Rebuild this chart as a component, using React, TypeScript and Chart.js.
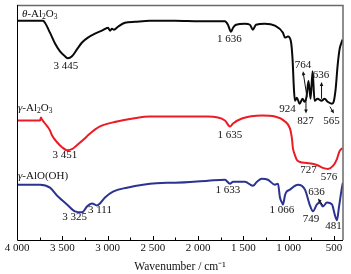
import React, { useEffect, useRef } from 'react';
import { Chart, registerables } from 'chart.js';

Chart.register(...registerables);

const FONT = "'Liberation Serif', 'Times New Roman', serif";

// x-axis ticks
const majorTicks = [500, 1000, 1500, 2000, 2500, 3000, 3500, 4000];
const minorTicks = [750, 1250, 1750, 2250, 2750, 3250, 3750];

// θ-Al2O3 (black)
const thetaWavenumbers = [4000, 3713, 3691, 3636, 3580, 3525, 3470, 3437, 3393, 3338, 3282, 3216, 3139, 3062, 2995, 2973, 2951, 2929, 2885, 2808, 2697, 2532, 2256, 1980, 1704, 1671, 1637, 1614, 1581, 1483, 1428, 1395, 1361, 1262, 1152, 1063, 1041, 1008, 975, 957, 942, 931, 909, 880, 847, 825, 803, 781, 758, 736, 714, 681, 637, 603, 570, 522, 503, 481, 460, 438, 405];
const thetaValues = [222, 222, 220, 210, 199, 191, 186, 184, 186, 193, 200, 205, 209, 212, 215, 212, 214, 213, 216, 220, 221, 222, 222, 221.5, 221.5, 218, 211, 215, 218, 219, 218, 213, 218, 219, 217, 210, 205, 206, 201, 183, 153, 141, 144, 138, 143, 140, 145, 161, 143, 171, 141, 143, 141, 143, 140, 138, 140, 153, 176, 193, 203];

// γ-Al2O3 (red)
const gammaWavenumbers = [4000, 3746, 3735, 3724, 3691, 3636, 3614, 3558, 3503, 3448, 3393, 3338, 3249, 3216, 3084, 2896, 2719, 2532, 2256, 1891, 1704, 1648, 1614, 1516, 1295, 1152, 1041, 986, 964, 953, 931, 909, 876, 798, 688, 622, 566, 511, 467, 438, 405];
const gammaValues = [121, 121, 124, 122, 118, 111, 106, 99, 94, 91, 92, 96, 103, 106, 115, 120, 123, 125, 125, 125, 121, 115, 118, 123, 126, 125, 120, 113, 103, 93, 86, 81, 79, 78, 76, 73, 72, 75, 82, 90, 93];

// γ-AlO(OH) (blue)
const boehmiteWavenumbers = [4000, 3746, 3636, 3547, 3448, 3360, 3282, 3227, 3172, 3117, 3084, 3028, 2940, 2786, 2609, 2344, 2256, 1891, 1704, 1648, 1614, 1483, 1395, 1350, 1295, 1229, 1152, 1118, 1096, 1074, 1063, 1041, 1030, 986, 898, 820, 765, 732, 688, 655, 622, 577, 522, 489, 467, 445, 412, 401];
const boehmiteValues = [56, 56, 53, 44, 36, 29, 28, 34, 37, 35, 37, 43, 49, 53, 56, 58, 58, 60, 61, 57, 59, 59, 55, 59, 62, 61, 56, 57, 43, 38, 36, 45, 48, 51, 56, 51, 35, 29, 36, 38, 34, 38, 36, 25, 20, 33, 53, 58];

// peak annotations (text centred at wavenumber / value)
const peakTexts = ['3 445', '1 636', '764', '636', '924', '827', '565', '3 451', '1 635', '727', '576', '3 325', '3 111', '1 633', '1 066', '749', '636', '481'];
const peakWavenumbers = [3459, 1654, 842, 644, 1014, 815, 528, 3470, 1648, 782, 555, 3365, 3084, 1670, 1074, 754, 693, 506];
const peakValues = [176, 203, 177, 167, 133, 120, 120, 86, 106, 71, 64, 23, 30, 51, 30, 21, 49, 14];

// arrows: from (w1,v1) to (w2,v2), head at the end
const arrowFromW = [798, 637, 809, 544, 622];
const arrowFromV = [145, 143, 143, 135, 35];
const arrowToW = [842, 637, 809, 500, 677];
const arrowToV = [171, 160, 128, 128, 42];

// sample names
const sampleNames = [
  [{ t: 'θ', it: true }, { t: '-Al' }, { t: '2', sub: true }, { t: 'O' }, { t: '3', sub: true }],
  [{ t: 'γ', it: true }, { t: '-Al' }, { t: '2', sub: true }, { t: 'O' }, { t: '3', sub: true }],
  [{ t: 'γ', it: true }, { t: '-AlO(OH)' }],
];
const sampleNameW = [3945, 3989, 3989];
const sampleNameV = [230, 135, 66];

const formatTick = (v: number) => {
  if (v >= 1000) {
    const s = String(v);
    return s.slice(0, s.length - 3) + ' ' + s.slice(s.length - 3);
  }
  return String(v);
};

const decor = {
  id: 'decor',
  afterDatasetsDraw(chart: any) {
    const { ctx, chartArea } = chart;
    const xs = chart.scales.x;
    const ys = chart.scales.y;
    const { left, right, top, bottom } = chartArea;
    ctx.save();
    // frame
    ctx.strokeStyle = '#6a6a6a';
    ctx.lineWidth = 1.5;
    ctx.beginPath();
    ctx.moveTo(left, top + 0.5);
    ctx.lineTo(right, top + 0.5);
    ctx.lineTo(right, bottom);
    ctx.stroke();
    ctx.strokeStyle = '#000';
    ctx.lineWidth = 1;
    ctx.beginPath();
    ctx.moveTo(left + 0.5, top);
    ctx.lineTo(left + 0.5, bottom + 0.5);
    ctx.lineTo(right, bottom + 0.5);
    ctx.stroke();
    // ticks (inward)
    ctx.beginPath();
    majorTicks.forEach((v) => {
      const x = Math.round(xs.getPixelForValue(v)) + 0.5;
      ctx.moveTo(x, bottom);
      ctx.lineTo(x, bottom - 4);
    });
    minorTicks.forEach((v) => {
      const x = Math.round(xs.getPixelForValue(v)) + 0.5;
      ctx.moveTo(x, bottom);
      ctx.lineTo(x, bottom - 2.5);
    });
    ctx.stroke();

    // peak labels
    ctx.fillStyle = '#111';
    ctx.font = `11px ${FONT}`;
    ctx.textAlign = 'center';
    ctx.textBaseline = 'middle';
    peakTexts.forEach((t, i) => {
      ctx.fillText(t, xs.getPixelForValue(peakWavenumbers[i]), ys.getPixelForValue(peakValues[i]));
    });

    // arrows
    ctx.strokeStyle = '#111';
    ctx.lineWidth = 1;
    arrowFromW.forEach((w, i) => {
      const x1 = xs.getPixelForValue(w);
      const y1 = ys.getPixelForValue(arrowFromV[i]);
      const x2 = xs.getPixelForValue(arrowToW[i]);
      const y2 = ys.getPixelForValue(arrowToV[i]);
      const ang = Math.atan2(y2 - y1, x2 - x1);
      const hl = 4;
      const hw = 1.8;
      ctx.beginPath();
      ctx.moveTo(x1, y1);
      ctx.lineTo(x2 - Math.cos(ang) * hl * 0.8, y2 - Math.sin(ang) * hl * 0.8);
      ctx.stroke();
      ctx.beginPath();
      ctx.moveTo(x2, y2);
      ctx.lineTo(x2 - Math.cos(ang) * hl - Math.sin(ang) * hw, y2 - Math.sin(ang) * hl + Math.cos(ang) * hw);
      ctx.lineTo(x2 - Math.cos(ang) * hl + Math.sin(ang) * hw, y2 - Math.sin(ang) * hl - Math.cos(ang) * hw);
      ctx.closePath();
      ctx.fill();
    });

    // sample names
    ctx.textAlign = 'left';
    ctx.textBaseline = 'alphabetic';
    sampleNames.forEach((parts, i) => {
      let x = xs.getPixelForValue(sampleNameW[i]);
      const yMid = ys.getPixelForValue(sampleNameV[i]);
      const base = yMid + 3.8;
      parts.forEach((p: any) => {
        if (p.sub) {
          ctx.font = `7.5px ${FONT}`;
          ctx.fillText(p.t, x, base + 2.5);
        } else {
          ctx.font = `${p.it ? 'italic ' : ''}11px ${FONT}`;
          ctx.fillText(p.t, x, base);
        }
        x += ctx.measureText(p.t).width;
      });
    });
    ctx.restore();
  },
};

export default function App() {
  const ref = useRef<HTMLCanvasElement>(null);
  useEffect(() => {
    const mk = (ws: number[], vs: number[]) => ws.map((x, i) => ({ x, y: vs[i] }));
    const common = { pointRadius: 0, borderWidth: 2, cubicInterpolationMode: 'monotone' as const, fill: false };
    const chart = new Chart(ref.current!, {
      type: 'line',
      data: {
        datasets: [
          { label: 'θ-Al2O3', data: mk(thetaWavenumbers, thetaValues), borderColor: '#0a0a0a', ...common },
          { label: 'γ-Al2O3', data: mk(gammaWavenumbers, gammaValues), borderColor: '#ec1c24', ...common },
          { label: 'γ-AlO(OH)', data: mk(boehmiteWavenumbers, boehmiteValues), borderColor: '#2b3290', ...common },
        ],
      },
      options: {
        animation: false,
        responsive: false,
        maintainAspectRatio: false,
        layout: { padding: { left: 17, right: 8, top: 5, bottom: 0 } },
        plugins: { legend: { display: false }, tooltip: { enabled: false } },
        scales: {
          x: {
            type: 'linear',
            reverse: true,
            min: 400,
            max: 4000,
            afterBuildTicks: (s: any) => {
              s.ticks = majorTicks.map((v) => ({ value: v }));
            },
            grid: { display: false, drawTicks: false },
            border: { display: false },
            ticks: {
              callback: (v: any) => formatTick(Number(v)),
              font: { family: FONT, size: 11 },
              color: '#111',
              padding: 2,
              maxRotation: 0,
              autoSkip: false,
            },
            title: {
              display: true,
              text: 'Wavenumber / cm⁻¹',
              font: { family: FONT, size: 11.5 },
              color: '#111',
              padding: { top: 3, bottom: 0 },
            },
          },
          y: { display: false, min: 0, max: 238 },
        },
      },
      plugins: [decor],
    });
    return () => chart.destroy();
  }, []);
  return (
    <div style={{ position: 'absolute', left: 0, top: 0, width: 351, height: 274, background: '#fff' }}>
      <canvas ref={ref} width={351} height={274} style={{ width: 351, height: 274, display: 'block' }} />
    </div>
  );
}
